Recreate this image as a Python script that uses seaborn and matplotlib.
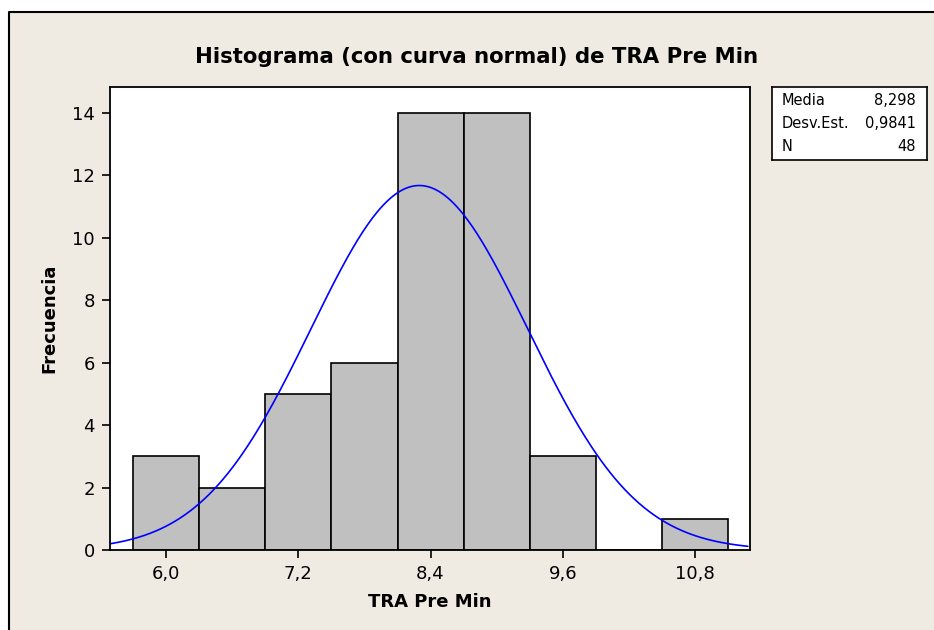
import numpy as np
import pandas as pd
import seaborn as sns
import matplotlib.pyplot as plt
from matplotlib.patches import Rectangle

# bin centres and counts
centros = [6.0, 6.6, 7.2, 7.8, 8.4, 9.0, 9.6, 10.2, 10.8]
frecuencias = [3, 2, 5, 6, 14, 14, 3, 0, 1]
media = 8.298
desv = 0.9841
n = 48
ancho = 0.6

sns.set_style("white")
plt.rcParams['font.family'] = ['DejaVu Sans']
plt.rcParams['text.color'] = 'black'
plt.rcParams['axes.labelcolor'] = 'black'
plt.rcParams['xtick.color'] = 'black'
plt.rcParams['ytick.color'] = 'black'

fondo = "#EFEBE2"
fig = plt.figure(figsize=(9.34, 6.30), dpi=100)
fig.patch.set_facecolor("white")
# beige panel with border on left and top
fig.patches.append(Rectangle((9 / 934, 0), 1.0, 1 - 12 / 630, transform=fig.transFigure,
                             facecolor=fondo, edgecolor="none", zorder=-2))
fig.lines.append(plt.Line2D([9 / 934, 9 / 934, 1.0], [0, 1 - 12 / 630, 1 - 12 / 630],
                            transform=fig.transFigure, color="black", lw=1.5))

ax = fig.add_axes([110 / 934, 1 - 550 / 630, 640 / 934, 463 / 630])
df = pd.DataFrame({"x": centros, "f": frecuencias})
sns.histplot(data=df, x="x", weights="f", binwidth=ancho, binrange=(5.7, 11.1),
             color="#C0C0C0", edgecolor="black", linewidth=1.2, alpha=1, ax=ax)

xs = np.linspace(5.49, 11.28, 400)
ys = n * ancho / (desv * np.sqrt(2 * np.pi)) * np.exp(-0.5 * ((xs - media) / desv) ** 2)
sns.lineplot(x=xs, y=ys, color="#0000FF", lw=1.2, ax=ax)

ax.set_xlim(5.49, 11.30)
ax.set_ylim(0, 14.83)
ax.set_xticks([6.0, 7.2, 8.4, 9.6, 10.8])
ax.set_xticklabels(["6,0", "7,2", "8,4", "9,6", "10,8"])
ax.set_yticks(range(0, 15, 2))
ax.tick_params(axis="both", labelsize=13, length=6, width=1.2, direction="out",
               bottom=True, left=True, pad=5)
for s in ax.spines.values():
    s.set_linewidth(1.3)
    s.set_color("black")
ax.set_xlabel("TRA Pre Min", fontsize=13, fontweight="bold", labelpad=7)
ax.set_ylabel("Frecuencia", fontsize=13, fontweight="bold", labelpad=10)
fig.text(477 / 934, 1 - 57 / 630, "Histograma (con curva normal) de TRA Pre Min",
         fontsize=15.3, fontweight="bold", ha="center", va="center")

# stats box
box = fig.add_axes([772 / 934, 1 - 160 / 630, 155 / 934, 73 / 630])
box.set_xticks([])
box.set_yticks([])
for s in box.spines.values():
    s.set_linewidth(1.2)
    s.set_color("black")
etiquetas = ["Media", "Desv.Est.", "N"]
valores = ["8,298", "0,9841", "48"]
for i, (e, v) in enumerate(zip(etiquetas, valores)):
    yy = 0.82 - i * 0.32
    box.text(0.06, yy, e, fontsize=10.5, va="center", ha="left", transform=box.transAxes)
    box.text(0.93, yy, v, fontsize=10.5, va="center", ha="right", transform=box.transAxes)

fig.savefig("out.png", dpi=100, facecolor=fig.get_facecolor())
